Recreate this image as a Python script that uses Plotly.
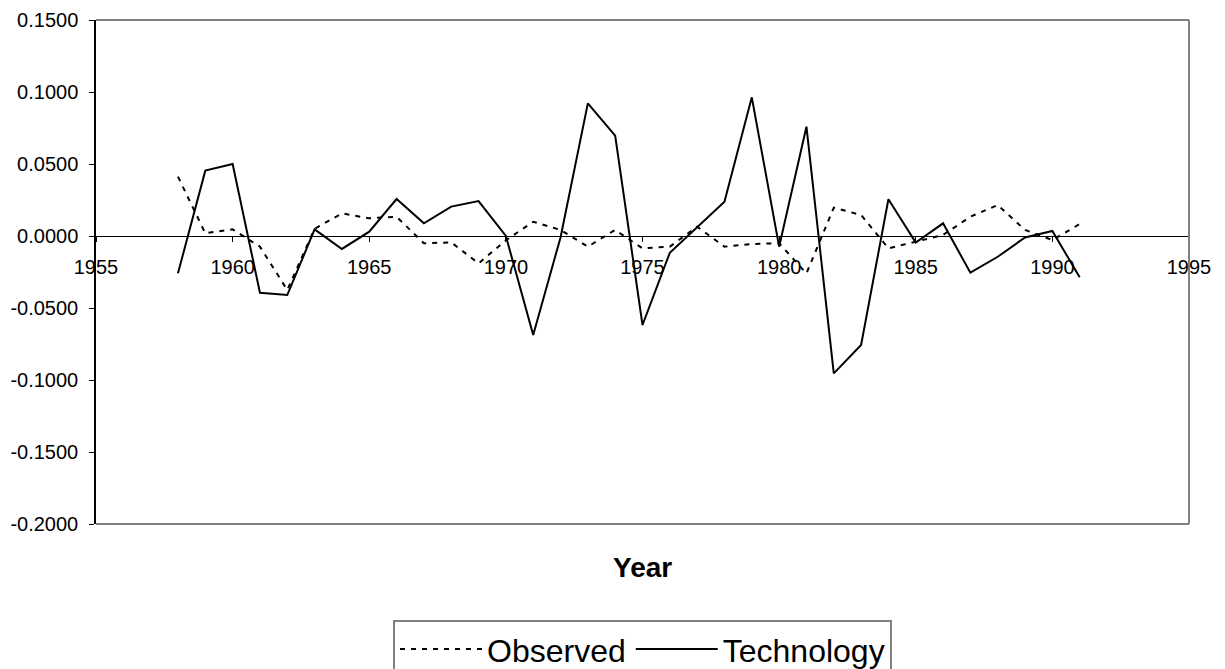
import plotly.graph_objects as go

years = [1958, 1959, 1960, 1961, 1962, 1963, 1964, 1965, 1966, 1967, 1968, 1969,
         1970, 1971, 1972, 1973, 1974, 1975, 1976, 1977, 1978, 1979, 1980, 1981,
         1982, 1983, 1984, 1985, 1986, 1987, 1988, 1989, 1990, 1991]

observed = [0.0412, 0.0019, 0.0046, -0.0074, -0.0375, 0.0050, 0.0157, 0.0123,
            0.0134, -0.0051, -0.0044, -0.0190, -0.0030, 0.0099, 0.0042, -0.0074,
            0.0042, -0.0086, -0.0074, 0.0065, -0.0074, -0.0056, -0.0050, -0.0260,
            0.0197, 0.0146, -0.0086, -0.0040, 0.0007, 0.0134, 0.0215, 0.0042,
            -0.0028, 0.0083]

technology = [-0.0259, 0.0454, 0.0500, -0.0394, -0.0410, 0.0046, -0.0090, 0.0030,
              0.0257, 0.0088, 0.0204, 0.0243, 0.0000, -0.0688, -0.0010, 0.0921,
              0.0697, -0.0618, -0.0116, 0.0060, 0.0238, 0.0963, -0.0074, 0.0759,
              -0.0954, -0.0757, 0.0255, -0.0046, 0.0088, -0.0255, -0.0144, -0.0010,
              0.0035, -0.0287]

x_ticks = [1955, 1960, 1965, 1970, 1975, 1980, 1985, 1990, 1995]
x_tick_labels = ["1955", "1960", "1965", "1970", "1975", "1980", "1985", "1990", "1995"]
y_ticks = [0.15, 0.10, 0.05, 0.0, -0.05, -0.10, -0.15, -0.20]
y_tick_labels = ["0.1500", "0.1000", "0.0500", "0.0000", "-0.0500", "-0.1000", "-0.1500", "-0.2000"]

FONT = "Arial, Liberation Sans, sans-serif"
Y_MIN, Y_MAX = -0.2, 0.15

fig = go.Figure()
fig.add_trace(go.Scatter(x=years, y=observed, name="Observed", mode="lines",
                         line=dict(color="black", width=2, dash="5px,6px")))
fig.add_trace(go.Scatter(x=years, y=technology, name="Technology", mode="lines",
                         line=dict(color="black", width=2)))

zero_pos = (0 - Y_MIN) / (Y_MAX - Y_MIN)

fig.update_layout(
    width=1225, height=669,
    margin=dict(l=96, r=36, t=20, b=145, pad=0, autoexpand=False),
    paper_bgcolor="white", plot_bgcolor="white",
    font=dict(family=FONT, color="black", size=20),
    showlegend=True,
    legend=dict(orientation="h", x=0.5, xanchor="center", y=-0.19, yanchor="top",
                font=dict(size=32, family=FONT, color="black"),
                bordercolor="#808080", borderwidth=2, bgcolor="white",
                itemwidth=82, tracegroupgap=0),
    xaxis=dict(range=[1955, 1995], tickvals=x_ticks, ticktext=x_tick_labels,
               anchor="free", position=zero_pos, showline=True, linecolor="black",
               linewidth=1, ticks="outside", ticklen=5, tickcolor="black", tickwidth=1,
               ticklabelstandoff=8,
               showgrid=False, zeroline=False, tickfont=dict(size=20)),
    yaxis=dict(range=[Y_MIN, Y_MAX], tickvals=y_ticks, ticktext=y_tick_labels,
               showline=True, linecolor="black", linewidth=1.5, ticks="outside",
               ticklen=5, tickcolor="black", tickwidth=1, showgrid=False,
               ticklabelstandoff=7,
               zeroline=False, tickfont=dict(size=20)),
    shapes=[
        dict(type="line", xref="paper", yref="paper", x0=0, x1=1, y0=1, y1=1,
             line=dict(color="#808080", width=2)),
        dict(type="line", xref="paper", yref="paper", x0=1, x1=1, y0=0, y1=1,
             line=dict(color="#808080", width=2)),
        dict(type="line", xref="paper", yref="paper", x0=0, x1=1, y0=0, y1=0,
             line=dict(color="#808080", width=2)),
    ],
    annotations=[
        dict(text="<b>Year</b>", xref="paper", yref="paper", x=0.5, y=-0.0873,
             xanchor="center", yanchor="middle", showarrow=False,
             font=dict(size=28, family=FONT, color="black")),
    ],
)

fig.write_html("out.html", config={"displayModeBar": False},
               post_script="document.body.style.margin='0px';")
